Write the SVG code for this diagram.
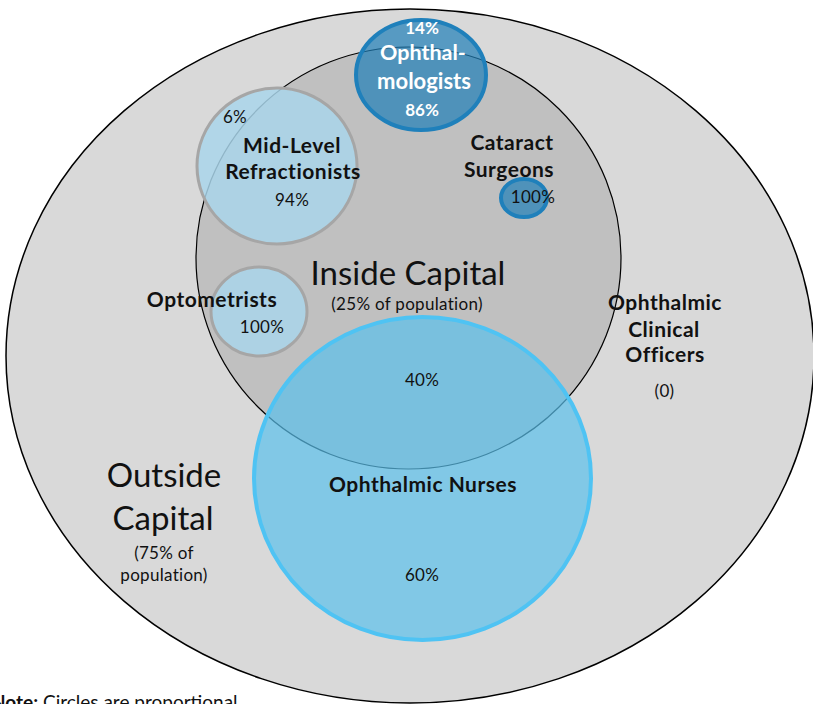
<svg xmlns="http://www.w3.org/2000/svg" width="813" height="704" viewBox="0 0 813 704">
<style>
text{font-family:Lato,"Open Sans","Liberation Sans",sans-serif;text-anchor:middle;fill:#111}
.b{font-weight:bold;font-size:21px;letter-spacing:0.5px}
.p{font-size:17px;letter-spacing:0.3px}
.big{font-size:33px}
.w{fill:#fff;font-weight:bold}
.light{fill:#a9d5ea;fill-opacity:0.85;stroke:#a6a6a6;stroke-width:3}
.dark{fill:#1f7fb8;fill-opacity:0.7;stroke:#1f80bb;stroke-width:4}
</style>
<rect width="813" height="704" fill="#fff"/>
<g id="outside-capital">
<ellipse cx="410" cy="356" rx="404" ry="347" fill="#d9d9d9" stroke="#000" stroke-width="1.5"/>
<text class="big" x="164" y="487">Outside</text>
<text class="big" x="163" y="530">Capital</text>
<text class="p" x="164" y="559">(75% of</text>
<text class="p" x="164" y="581">population)</text>
</g>
<g id="inside-capital">
<ellipse cx="408.5" cy="258" rx="212.5" ry="211" fill="#c0c0c0" stroke="#000" stroke-width="1.2"/>
<text class="big" x="408" y="285">Inside Capital</text>
<text class="p" x="407" y="310">(25% of population)</text>
</g>
<g id="ophthalmic-clinical-officers">
<text class="b" x="665" y="310">Ophthalmic</text>
<text class="b" x="664" y="337">Clinical</text>
<text class="b" x="665" y="362">Officers</text>
<text class="p" x="664.5" y="397">(0)</text>
</g>
<g id="ophthalmologists">
<ellipse class="dark" cx="421" cy="75" rx="65" ry="55"/>
<text class="w" x="422" y="34" font-size="17">14%</text>
<text class="w" x="423" y="60" font-size="21.5">Ophthal-</text>
<text class="w" x="424" y="89" font-size="22">mologists</text>
<text class="w" x="422" y="116" font-size="17">86%</text>
</g>
<g id="mid-level-refractionists">
<ellipse class="light" cx="277" cy="166" rx="80" ry="78"/>
<text class="p" x="235" y="123">6%</text>
<text class="b" x="292" y="153">Mid-Level</text>
<text class="b" x="293" y="179">Refractionists</text>
<text class="p" x="292" y="206">94%</text>
</g>
<g id="cataract-surgeons">
<ellipse class="dark" cx="524" cy="198" rx="23" ry="19"/>
<text class="b" x="512" y="150">Cataract</text>
<text class="b" x="509" y="177">Surgeons</text>
<text class="p" x="533" y="203">100%</text>
</g>
<g id="optometrists">
<ellipse class="light" cx="259" cy="311.5" rx="48" ry="44.5"/>
<text class="b" x="212" y="307">Optometrists</text>
<text class="p" x="262" y="333">100%</text>
</g>
<g id="ophthalmic-nurses">
<ellipse cx="422.5" cy="478.5" rx="168.5" ry="161.5" fill="#5bc0eb" fill-opacity="0.7" stroke="#4fc3f3" stroke-width="4"/>
<text class="p" x="422" y="386">40%</text>
<text class="b" x="423" y="492">Ophthalmic Nurses</text>
<text class="p" x="422" y="581">60%</text>
</g>
<g id="connectors"/>
<g id="note">
<text x="-9" y="709" style="text-anchor:start;font-size:19px"><tspan font-weight="bold">Note:</tspan> Circles are proportional</text>
</g>
</svg>
